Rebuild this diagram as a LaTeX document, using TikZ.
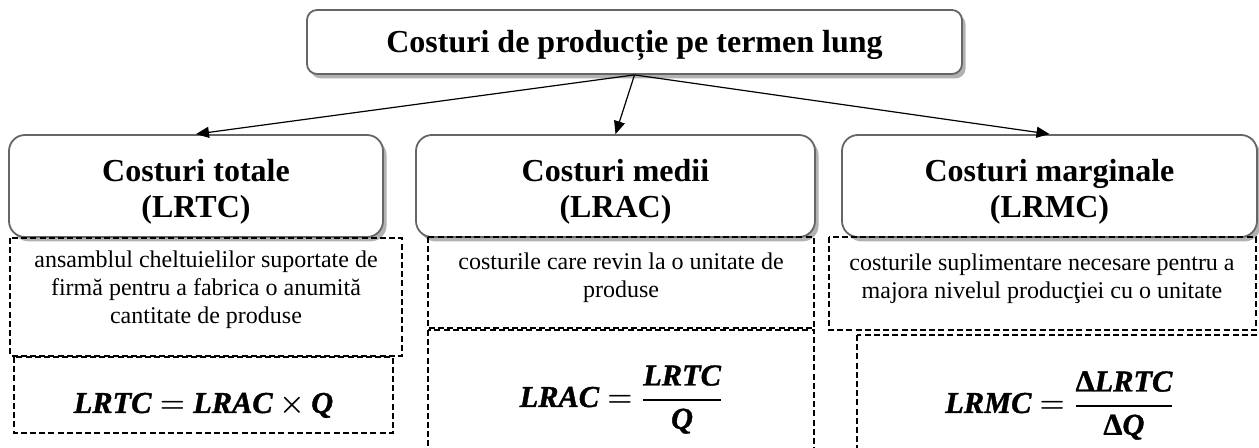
\documentclass[tikz,border=0pt]{standalone}
\usepackage{amsmath}
\usepackage{fontspec}
\setmainfont{Liberation Serif}
\newfontfamily\frmfam{Liberation Serif}[FakeBold=1.2]
\usetikzlibrary{arrows.meta, shadows}

\tikzset{
  topbox/.style={draw=black!60, line width=0.9pt, fill=white, rounded corners=5pt,
    minimum width=327.5pt, minimum height=32pt,
    drop shadow={shadow xshift=1.8pt, shadow yshift=-2.2pt, fill=black!30, opacity=1}},
  lvlbox/.style={draw=black!60, line width=0.9pt, fill=white, rounded corners=8pt,
    minimum height=51pt,
    drop shadow={shadow xshift=1.8pt, shadow yshift=-2.2pt, fill=black!30, opacity=1}},
  dbox/.style={draw=black, line width=0.55pt, dash pattern=on 3pt off 1.6pt},
  arr/.style={-{Triangle[length=6.5pt,width=5.5pt]}, line width=0.6pt},
  ttl/.style={font=\fontsize{16}{18}\selectfont\bfseries, align=center, inner sep=0pt},
  dsc/.style={font=\fontsize{12}{14}\selectfont, align=center, inner sep=0pt},
  frm/.style={font=\fontsize{15.2}{18}\selectfont\boldmath, inner sep=0pt}
}
\newcommand{\fvar}[1]{\text{\frmfam\bfseries\itshape #1}}
\newcommand{\fdel}{\text{\frmfam\bfseries Δ}}
\newcommand{\ffrac}[2]{\genfrac{}{}{1.1pt}{0}{#1}{#2}}
\newcommand{\fsp}{\thickmuskip=4.5mu\relax\medmuskip=3.5mu\relax}

\begin{document}
\begin{tikzpicture}[x=0.5pt, y=-0.5pt]
    \useasboundingbox (0,0) rectangle (1259,448);
    \clip (0,0) rectangle (1259,448);

    % main box
    \node[topbox] (top) at (634.5,42) {};
    \node[ttl, anchor=base] (toptxt) at (634.5,53) {Costuri de producție pe termen lung};

    % the three kinds of costs
    \node[lvlbox, minimum width=187pt] (tot) at (196,186) {};
    \node[lvlbox, minimum width=199.5pt] (avg) at (615.5,186) {};
    \node[lvlbox, minimum width=207.5pt] (marg) at (1049.5,186) {};

    \node[ttl] (tottxt) at (196,192) {Costuri totale\\(LRTC)};
    \node[ttl] (avgtxt) at (615.5,192) {Costuri medii\\(LRAC)};
    \node[ttl] (margtxt) at (1049.5,192) {Costuri marginale\\(LRMC)};

    \draw[arr] (top.south) -- (tot.north);
    \draw[arr] (top.south) -- (avg.north);
    \draw[arr] (top.south) -- (marg.north);

    % definitions
    \draw[dbox] (10,238) rectangle (402,356);
    \draw[dbox] (428,237) rectangle (814,328);
    \draw[dbox] (829,237) rectangle (1256,330);

    \node[dsc] (totdef) at (206,290) {ansamblul cheltuielilor suportate de\\firmă pentru a fabrica o anumită\\cantitate de produse};
    \node[dsc] (avgdef) at (621,278) {costurile care revin la o unitate de\\produse};
    \node[dsc] (margdef) at (1042,279) {costurile suplimentare necesare pentru a\\majora nivelul producţiei cu o unitate};

    % formulas
    \draw[dbox] (14,357) rectangle (393,433);
    \draw[dbox] (428,330) rectangle (814,470);
    \draw[dbox] (857,335) rectangle (1290,470);

    \node[frm, anchor=base] (totf) at (203.5,413) {$\fsp\fvar{LRTC}=\fvar{LRAC}\times\fvar{Q}$};
    \node[frm, anchor=base] (avgf) at (621.5,407) {$\fsp\fvar{LRAC}=\ffrac{\fvar{LRTC}}{\fvar{Q}}$};
    \node[frm, anchor=base] (margf) at (1060,413) {$\fsp\fvar{LRMC}=\ffrac{\fdel\fvar{LRTC}}{\fdel\fvar{Q}}$};
\end{tikzpicture}
\end{document}
